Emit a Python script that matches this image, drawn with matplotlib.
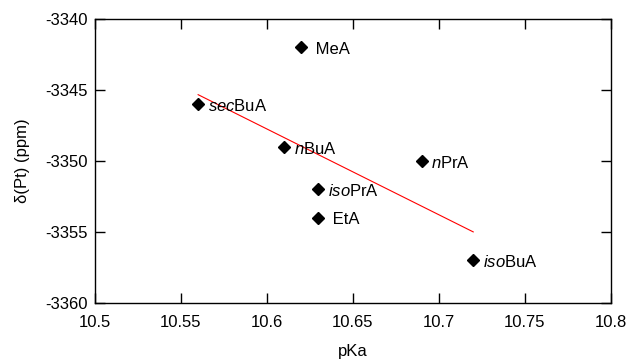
import numpy as np
import matplotlib.pyplot as plt

plt.rcParams['font.family'] = ['Liberation Sans', 'DejaVu Sans']
plt.rcParams['mathtext.fontset'] = 'custom'
plt.rcParams['mathtext.rm'] = 'Liberation Sans'
plt.rcParams['mathtext.it'] = 'Liberation Sans:italic'
plt.rcParams['axes.unicode_minus'] = False

# amines: pKa vs. 195Pt shift
names = ['$\\mathit{sec}$BuA', ' MeA', '$\\mathit{n}$BuA', '$\\mathit{n}$PrA',
         '$\\mathit{iso}$PrA', ' EtA', '$\\mathit{iso}$BuA']
pka = np.array([10.56, 10.62, 10.61, 10.69, 10.63, 10.63, 10.72])
shift = np.array([-3346, -3342, -3349, -3350, -3352, -3354, -3357])

# linear fit (red line)
k, b = np.polyfit(pka, shift, 1)
xfit = np.array([pka.min(), pka.max()])

fig = plt.figure(figsize=(6.29, 3.59), dpi=100)
ax = fig.add_axes([0.151, 0.156, 0.820, 0.792])

ax.plot(xfit, k * xfit + b, color='red', lw=0.8, zorder=2)
ax.plot(pka, shift, 'D', color='black', ms=6.5, zorder=3)
for name, xx, yy in zip(names, pka, shift):
    ax.annotate(name, (xx, yy), xytext=(7, -1.5), textcoords='offset points',
                va='center', ha='left', fontsize=12)

ax.set_xlim(10.5, 10.8)
ax.set_ylim(-3360, -3340)
ax.set_xticks([10.5, 10.55, 10.6, 10.65, 10.7, 10.75, 10.8])
ax.set_xticklabels(['10.5', '10.55', '10.6', '10.65', '10.7', '10.75', '10.8'])
ax.set_yticks([-3360, -3355, -3350, -3345, -3340])
ax.tick_params(direction='in', length=7, width=1, top=True, right=True,
               labelsize=12)
ax.tick_params(axis='x', pad=9)
ax.tick_params(axis='y', pad=5)
for s in ax.spines.values():
    s.set_linewidth(1)

ax.set_xlabel('pKa', fontsize=12, labelpad=10)
ax.set_ylabel('δ(Pt) (ppm)', fontsize=12, labelpad=11)

fig.savefig('out.png', dpi=100)
